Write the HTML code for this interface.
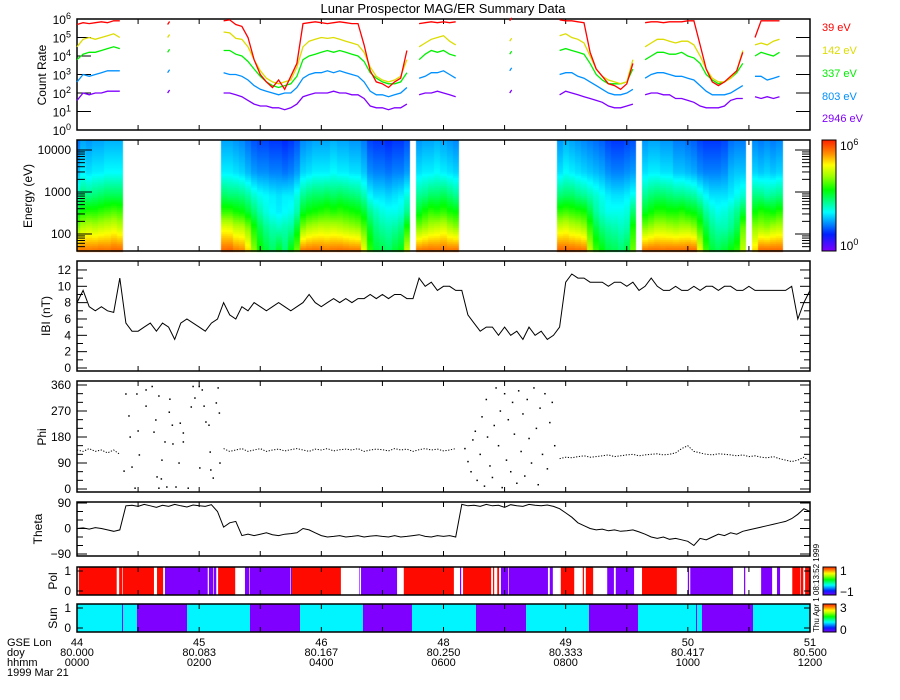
<!DOCTYPE html>
<html><head><meta charset="utf-8">
<style>
html,body{margin:0;padding:0;background:#fff;}
#wrap{position:relative;width:900px;height:700px;overflow:hidden;}
#spec{position:absolute;left:0;top:0;}
#main{position:absolute;left:0;top:0;}
text{font-family:"Liberation Sans",sans-serif;fill:#000;}
</style></head>
<body>
<div id="wrap">
<canvas id="spec" width="900" height="700"></canvas>
<svg id="main" width="900" height="700" xmlns="http://www.w3.org/2000/svg"></svg>
</div>
<script>
const N = null;
// time grid: sample index * 0.1 hour
const crStepHours = 0.1;
const crChannels = ["39 eV","142 eV","337 eV","803 eV","2946 eV"];
const crEnergies = [39,142,337,803,2946];
// log10 count rates
const cr39 = [5.7,5.8,5.75,5.8,5.85,5.8,5.9,5.9, N,N,N,N,N,N,N, 5.7, N,N,N,N,N,N,N,N,
 5.9,5.95,5.7,5.6,5.0,3.8,3.0,2.6,2.3,2.7,2.2,2.9,3.6,5.75,5.8,5.85,5.8,5.75,5.8,5.85,5.8,5.75,5.75,4.6,3.2,2.6,2.5,2.3,2.6,2.8,4.3,
 N, 5.75,5.8,5.85,5.8,5.85,5.8,5.85, N,N,N,N,N,N,N,N, 5.9, N,N,N,N,N,N,N,
 5.95,5.9,5.9,5.85,5.8,4.2,3.3,2.9,2.5,2.4,2.2,2.5,3.6, N,
 5.8,5.85,5.85,5.8,5.85,5.85,5.85,5.9,5.9,4.6,3.3,2.6,2.4,2.6,2.9,3.2,4.2, N,
 5.0,5.9,5.9,5.9,5.9];
const cr142 = [4.5,4.9,5.0,4.9,5.0,5.1,5.2,5.0, N,N,N,N,N,N,N, 5.0, N,N,N,N,N,N,N,N,
 5.3,5.25,4.95,4.9,4.5,3.8,3.2,2.8,2.6,2.5,2.6,2.7,3.4,4.5,4.8,4.9,5.0,4.95,5.0,4.9,4.8,4.7,4.6,4.2,3.4,2.9,2.7,2.6,2.7,2.9,3.8,
 N, 4.5,4.7,4.9,5.0,5.1,4.8,4.6, N,N,N,N,N,N,N,N, 4.8, N,N,N,N,N,N,N,
 5.1,5.2,5.0,4.9,4.7,4.0,3.3,2.9,2.7,2.6,2.5,2.6,3.8, N,
 4.5,4.7,4.9,4.9,4.8,4.7,4.8,4.8,4.6,4.0,3.3,2.8,2.6,2.6,2.8,3.2,4.3, N,
 4.6,4.7,4.6,4.8,4.9];
const cr337 = [3.8,4.1,4.2,4.2,4.3,4.4,4.5,4.4, N,N,N,N,N,N,N, 4.2, N,N,N,N,N,N,N,N,
 4.3,4.3,4.1,4.0,3.7,3.3,2.9,2.6,2.4,2.3,2.4,2.5,2.9,3.8,4.0,4.1,4.2,4.3,4.2,4.3,4.2,4.1,4.0,3.7,3.1,2.8,2.6,2.5,2.5,2.6,3.1,
 N, 3.8,4.1,4.3,4.2,4.3,4.1,4.0, N,N,N,N,N,N,N,N, 4.1, N,N,N,N,N,N,N,
 4.3,4.4,4.3,4.2,4.1,3.6,3.0,2.7,2.5,2.5,2.5,2.6,3.3, N,
 3.8,4.0,4.2,4.2,4.1,4.1,4.2,4.0,3.9,3.6,3.0,2.7,2.5,2.6,2.8,3.1,3.6, N,
 4.0,4.2,4.1,4.0,4.2];
const cr803 = [2.6,3.0,2.9,3.0,3.1,3.2,3.2,3.2, N,N,N,N,N,N,N, 3.1, N,N,N,N,N,N,N,N,
 3.1,3.0,3.0,2.9,2.7,2.4,2.2,2.1,2.0,1.9,2.0,2.0,2.3,2.8,3.0,3.1,3.1,3.2,3.1,3.2,3.1,3.0,2.9,2.6,2.1,1.9,1.9,1.8,1.9,2.0,2.3,
 N, 2.8,2.9,3.1,3.1,3.2,3.0,2.8, N,N,N,N,N,N,N,N, 3.2, N,N,N,N,N,N,N,
 3.0,3.1,3.1,2.9,2.8,2.6,2.4,2.2,2.0,1.9,1.9,2.0,2.2, N,
 2.8,3.0,3.1,3.1,3.0,2.9,2.9,2.8,2.7,2.4,2.1,1.9,1.9,1.9,2.0,2.2,2.4, N,
 2.9,2.9,2.7,2.8,2.9];
const cr2946 = [1.6,2.0,1.9,2.0,2.0,2.1,2.1,2.1, N,N,N,N,N,N,N, 2.0, N,N,N,N,N,N,N,N,
 2.0,2.0,1.9,1.8,1.6,1.4,1.3,1.3,1.2,1.2,1.1,1.2,1.4,1.8,1.9,2.0,2.0,2.0,2.1,2.0,2.0,1.9,1.9,1.7,1.3,1.2,1.2,1.1,1.2,1.2,1.4,
 N, 1.9,2.0,2.0,2.1,2.0,1.9,1.8, N,N,N,N,N,N,N,N, 2.0, N,N,N,N,N,N,N,
 1.9,2.1,2.0,1.9,1.8,1.7,1.6,1.5,1.3,1.2,1.2,1.3,1.4, N,
 1.9,2.0,2.0,1.9,1.9,1.7,1.7,1.6,1.5,1.3,1.2,1.2,1.2,1.3,1.6,1.7,1.7, N,
 1.8,1.7,1.8,1.7,1.8];

// magnetometer series, every 0.1 h from 0 to 12 h
const bMag = [8,9.5,7.5,7,7.5,7,6.8,11,5.5,4.5,
 4.5,5,5.5,4.5,5.5,5,3.5,5.5,6,5.5,
 5,4.5,5.5,6,8,6.5,6,7.5,7,8,
 7.5,7,7.5,8,7.5,7,7.5,8,9,8,
 7.5,8,8.5,8,8.5,8,8.5,8.5,9,8.5,
 9,8.5,9,9,8.5,8.5,11,10,10.5,9.5,
 10,10,9.5,9.5,6.5,5.5,4.5,5,5,4,
 5,4,4.5,3.5,5,4,4.5,3.5,4,5,
 10.5,11.5,11,11,10.5,10.5,10.5,10,10.5,10.5,
 10,10.5,9.5,10,11,10,9.5,9.5,10,9.5,
 9.5,10,9.5,10,10,9.5,10,10,9.5,9.5,
 10,9.5,9.5,9.5,9.5,9.5,9.5,10,6,8,
 9.5];
const theta = [0,2,-2,3,0,-5,-10,-5,80,82,
 78,85,80,75,82,78,85,80,76,83,
 80,78,84,60,5,20,25,-25,-20,-25,
 -20,-15,-22,-25,-20,-18,-15,0,-5,-15,
 -25,-30,-28,-25,-30,-28,-25,-30,-27,-25,
 -28,-30,-25,-30,-28,-25,-22,-28,-30,-25,
 -28,-25,-30,85,80,82,78,85,80,82,
 75,84,80,78,85,82,80,83,78,70,
 55,40,20,10,0,-5,-2,-8,-5,-10,
 -8,-5,-12,-20,-30,-35,-30,-38,-35,-40,
 -45,-60,-35,-40,-30,-20,-25,-15,-20,-10,
 -5,0,5,10,15,20,25,35,50,70,
 60];
const phiSteady = [135,130,140,130,135,125,135,120,
 N,N,N,N,N,N,N,N,N,N,N,N,N,N,N,N,
 140,130,135,140,130,135,140,130,135,138,132,136,140,135,130,138,135,140,132,136,138,135,140,130,135,138,136,132,140,135,138,130,136,140,135,138,132,135,140,
 N,N,N,N,N,N,N,N,N,N,N,N,N,N,N,N,
 105,110,108,112,115,110,112,115,118,112,115,118,120,115,118,120,122,118,120,125,140,150,130,125,120,118,122,120,118,115,118,112,115,110,108,112,105,100,95,100,110,95];
const phiScatterT = [0.80,0.98,0.85,0.87,1.00,1.02,0.77,0.90,0.95,1.13,1.13,1.23,1.26,1.29,1.34,1.31,1.39,1.44,1.38,1.34,1.47,1.51,1.52,1.56,1.57,1.62,1.67,1.69,1.74,1.74,1.82,1.87,1.90,1.93,2.00,2.05,2.01,2.08,2.11,2.16,2.18,2.19,2.23,2.28,2.31,2.33,2.34,
 6.35,6.40,6.45,6.48,6.52,6.55,6.60,6.63,6.67,6.70,6.72,6.76,6.80,6.83,6.86,6.90,6.93,6.96,7.00,7.03,7.06,7.10,7.13,7.16,7.20,7.23,7.27,7.30,7.33,7.37,7.40,7.44,7.48,7.52,7.55,7.58,7.62,7.66,7.70,7.74,7.78,7.82];
const phiScatterV = [329,329,253,180,201,118,62,76,3,343,287,355,197,239,322,42,100,163,35,3,7,266,311,221,156,7,90,228,194,163,3,284,355,315,355,343,73,287,232,221,128,66,38,298,350,263,90,
 140,95,60,170,200,30,120,250,10,310,180,80,40,220,350,150,270,5,330,100,240,60,300,190,20,340,130,260,45,310,175,90,350,210,15,280,120,330,70,230,300,150];
// polarity segments (hours) and value (1 / -1)
const polStart = [0.03,0.69,0.75,1.31,1.44,2.16,2.24,2.31,2.75,2.83,3.50,3.52,4.62,4.65,5.35,6.27,6.32,6.81,6.88,6.94,7.07,7.74,7.92,8.28,8.33,8.68,8.82,9.25,10.00,10.04,10.92,11.20,11.46,11.71,11.85,11.92];
const polEnd   = [0.65,0.74,1.26,1.41,2.14,2.23,2.28,2.59,2.82,3.49,3.52,4.32,4.63,5.24,6.17,6.29,6.78,6.83,6.91,7.06,7.71,7.79,8.14,8.30,8.45,8.79,9.12,9.82,10.02,10.74,10.94,11.38,11.51,11.84,11.89,12.00];
const polVal   = [1,1,1,1,-1,-1,-1,1,-1,-1,-1,1,-1,-1,1,-1,1,1,1,-1,-1,-1,1,1,1,-1,-1,1,-1,-1,-1,-1,-1,1,1,1];
// sunlight segments
const sunStart = [0,0.737,0.753,0.982,1.801,2.832,3.651,4.682,5.484,6.532,7.351,8.382,9.184,10.134,10.150,10.232,11.067];
const sunEnd   = [0.737,0.753,0.982,1.801,2.832,3.651,4.682,5.484,6.532,7.351,8.382,9.184,10.134,10.150,10.232,11.067,12];
const sunVal   = [1,0,1,0,1,0,1,0,1,0,1,0,1,0,1,0,1];
// x-axis labels
const lonLabels = ["44","45","46","48","49","50","51"];
const doyLabels = ["80.000","80.083","80.167","80.250","80.333","80.417","80.500"];
const hhmmLabels = ["0000","0200","0400","0600","0800","1000","1200"];
const labelHours = [0,2,4,6,8,10,12];

const svg = document.getElementById('main');
const NS = 'http://www.w3.org/2000/svg';
function mk(tag, attrs, parent){
  const e = document.createElementNS(NS, tag);
  for (const k in attrs) e.setAttribute(k, attrs[k]);
  (parent||svg).appendChild(e);
  return e;
}
const X0 = 77, X1 = 810;
function X(h){ return X0 + h*(X1-X0)/12; }

const panels = {
  cr:{t:19,b:130}, en:{t:140,b:251}, b:{t:261,b:371}, phi:{t:381,b:492},
  th:{t:502,b:556}, pol:{t:567,b:595}, sun:{t:604,b:632}
};
const Ycr = v => 130 - v*18.5;
const Yen = e => 192 - (Math.log10(e)-3)*42;
const Yb = v => 368 - v*8.17;
const Yphi = v => 489 - v*(104/360);
const Yth = v => 528.5 - v*(51/180);

// ---- spectrogram (canvas) ----
const ctx = document.getElementById('spec').getContext('2d');
const stops = [[0,[127,0,255]],[1.2,[0,32,255]],[2.0,[0,144,255]],[2.8,[0,255,255]],[4.4,[0,255,0]],[5.4,[160,255,0]],[6.2,[255,255,0]],[7.0,[255,144,0]],[8,[255,32,0]]];
function cmap(v){
  v=Math.max(0,Math.min(8,v));
  for(let k=0;k<stops.length-1;k++){
    const a=stops[k],b=stops[k+1];
    if(v<=b[0]){const f=(v-a[0])/(b[0]-a[0]);
      return 'rgb('+a[1].map((c,j)=>Math.round(c+(b[1][j]-c)*f)).join(',')+')';}
  }
  return 'rgb(255,32,0)';
}
const chanArrays = [cr39,cr142,cr337,cr803,cr2946];
const chanOffset = [1.5,0.7,0.4,0.7,0.7];
for(let i=0;i<cr39.length;i++){
  if(cr39[i]==null) continue;
  const prevOk = i>0 && cr39[i-1]!=null, nextOk = i<cr39.length-1 && cr39[i+1]!=null;
  if(!prevOk && !nextOk) continue;
  const h=i*crStepHours;
  const xa=Math.round(X(h-0.05)), xb=Math.round(X(h+0.05));
  const le=[Math.log10(30)].concat(crEnergies.map(Math.log10)).concat([Math.log10(20000)]);
  const cv=[chanArrays[0][i]+chanOffset[0]].concat(chanArrays.map((a,k)=>a[i]+chanOffset[k])).concat([chanArrays[4][i]+0.1]);
  for(let y=panels.en.t; y<panels.en.b; y+=2){
    const L = 3 - (y+1-192)/42;
    let v=cv[cv.length-1];
    for(let k=0;k<le.length-1;k++){ if(L>=le[k]&&L<=le[k+1]){v=cv[k]+(cv[k+1]-cv[k])*(L-le[k])/(le[k+1]-le[k]);break;} }
    ctx.fillStyle=cmap(v);
    ctx.fillRect(Math.max(X0,xa), y, Math.min(X1,xb)-Math.max(X0,xa), 2);
  }
}
// colorbars
function colorbar(x,y,w,h,name){
  const g=ctx.createLinearGradient(0,y,0,y+h);
  for(const s of stops) g.addColorStop(1-s[0]/8,'rgb('+s[1].join(',')+')');
  ctx.fillStyle=g; ctx.fillRect(x,y,w,h);
}
colorbar(822,140,14,111);
colorbar(823,567,13,28);
colorbar(823,604,13,28);

// ---- title ----
const title = mk('text',{x:443,y:13,'text-anchor':'middle','font-size':13});
title.textContent='Lunar Prospector MAG/ER Summary Data';



function frame(p,name){
  const r=mk('rect',{x:X0,y:p.t,width:X1-X0,height:p.b-p.t,fill:'none',stroke:'#000','stroke-width':1.5});
  
  
  for(let h=1;h<12;h++){
    const t1=mk('line',{x1:X(h),x2:X(h),y1:p.b,y2:p.b-5,stroke:'#000'});
    
    
    const t2=mk('line',{x1:X(h),x2:X(h),y1:p.t,y2:p.t+5,stroke:'#000'});
    
    
  }
}
function ytick(y,len,both){
  const a=mk('line',{x1:X0,x2:X0+len,y1:y,y2:y,stroke:'#000'});
  
  
  if(both){const b=mk('line',{x1:X1,x2:X1-len,y1:y,y2:y,stroke:'#000'});
    
    }
}
function ylab(y,txt,name){
  const t=mk('text',{x:71,y:y+4,'text-anchor':'end','font-size':12});
  t.textContent=txt;
  
  
}
function ytitle(x,y,txt,name){
  const t=mk('text',{x:x,y:y,'text-anchor':'middle','font-size':12,transform:'rotate(-90 '+x+' '+y+')'});
  t.textContent=txt;
  
  
}
function pow10(x,y,e,anchor,name){
  const t=mk('text',{x:x,y:y,'text-anchor':anchor,'font-size':12});
  const a=document.createElementNS(NS,'tspan'); a.textContent='10'; t.appendChild(a);
  const b=document.createElementNS(NS,'tspan'); b.setAttribute('dy','-5'); b.setAttribute('font-size','9'); b.textContent=e; t.appendChild(b);
  
  
}
function polyline(xs,ys,color,name,w){
  let d='',pen=false;
  for(let i=0;i<xs.length;i++){
    if(ys[i]==null){pen=false;continue;}
    const isolated = !pen && (i==xs.length-1 || ys[i+1]==null);
    if(isolated){ d+='M'+(xs[i]-1).toFixed(1)+' '+ys[i].toFixed(1)+'L'+(xs[i]+1).toFixed(1)+' '+(ys[i]-3).toFixed(1); pen=false; continue; }
    d+=(pen?'L':'M')+xs[i].toFixed(1)+' '+ys[i].toFixed(1); pen=true;
  }
  const p=mk('path',{d:d,fill:'none',stroke:color,'stroke-width':w||1,'stroke-linejoin':'miter'});
  
  
}

// ---- count rate panel ----
frame(panels.cr,'count-rate-panel');
for(let d=1;d<=5;d++) ytick(Ycr(d),14,true);
for(let d=0;d<=6;d++) pow10(71,Ycr(d)+5,String(d),'end','count-rate-tick-label');
ytitle(46,75,'Count Rate','count-rate-axis-title');
const crColors=['#ff0000','#dcdc00','#00f000','#0090ff','#8000ff'];
const crNames=['series-39ev','series-142ev','series-337ev','series-803ev','series-2946ev'];
for(let k=4;k>=0;k--){
  const arr=chanArrays[k];
  polyline(arr.map((v,i)=>X(i*crStepHours)), arr.map(v=>v==null?null:Ycr(v)), crColors[k], crNames[k], 1.3);
}
const legY=[27,50,73,96,118];
for(let k=0;k<5;k++){
  const t=mk('text',{x:822,y:legY[k]+4,'font-size':11,style:'fill:'+crColors[k]});
  t.textContent=crChannels[k];
  
  
}

// ---- energy panel ----
frame(panels.en,'energy-panel');
for(let dec=1;dec<=4;dec++){
  for(let m=1;m<10;m++){
    const e=m*Math.pow(10,dec); const y=Yen(e);
    if(y<panels.en.t+1||y>panels.en.b-1) continue;
    ytick(y, m==1?15:8, true);
  }
}
ylab(Yen(100),'100','energy-tick-label');
ylab(Yen(1000),'1000','energy-tick-label');
ylab(Yen(10000),'10000','energy-tick-label');
ytitle(32,196,'Energy (eV)','energy-axis-title');
const cbf=mk('rect',{x:822,y:140,width:14,height:111,fill:'none',stroke:'#000'});


pow10(840,150,'6','start','colorbar-max-label');
pow10(840,250,'0','start','colorbar-min-label');

// ---- |B| panel ----
frame(panels.b,'field-magnitude-panel');
for(let v=0;v<=12;v++) ytick(Yb(v), v%2==0?10:6, true);
for(let v=0;v<=12;v+=2) ylab(Yb(v),String(v),'field-tick-label');
ytitle(50,316,'IBI (nT)','field-axis-title');
polyline(bMag.map((v,i)=>X(i*0.1)), bMag.map(v=>Yb(v)),'#000','field-magnitude-line',1);

// ---- Phi panel ----
frame(panels.phi,'phi-panel');
for(let v=0;v<=360;v+=30) ytick(Yphi(v), v%90==0?10:6, true);
for(let v=0;v<=360;v+=90) ylab(Yphi(v),String(v),'phi-tick-label');
ytitle(46,437,'Phi','phi-axis-title');
polyline(phiSteady.map((v,i)=>X(i*0.1)), phiSteady.map(v=>v==null?null:Yphi(v)),'#000','phi-steady-points',1);
svg.lastChild.setAttribute('stroke-dasharray','1.2,1.6');
for(let i=0;i<phiScatterT.length;i++){
  const r=mk('rect',{x:X(phiScatterT[i])-0.7,y:Yphi(phiScatterV[i])-0.7,width:1.5,height:1.5,fill:'#000'});
  
  
}

// ---- Theta panel ----
frame(panels.th,'theta-panel');
for(let v=-90;v<=90;v+=30) ytick(Yth(v), v%90==0?10:6, true);
ylab(Yth(90),'90','theta-tick-label');
ylab(Yth(0),'0','theta-tick-label');
ylab(Yth(-90),'\u221290','theta-tick-label');
ytitle(42,529,'Theta','theta-axis-title');
polyline(theta.map((v,i)=>X(i*0.1)), theta.map(v=>Yth(v)),'#000','theta-line',1);

// ---- Pol panel ----
for(let i=0;i<polStart.length;i++){
  const r=mk('rect',{x:X(polStart[i]),y:panels.pol.t,width:X(polEnd[i])-X(polStart[i]),height:panels.pol.b-panels.pol.t,fill:polVal[i]>0?'#ff0a00':'#8000ff'});
  
  
}
frame(panels.pol,'polarity-panel');
ytick(panels.pol.t+4,6,true); ytick(panels.pol.b-4,6,true);
ylab(panels.pol.t+4,'1','pol-tick-label');
ylab(panels.pol.b-4,'0','pol-tick-label');
ytitle(57,581,'Pol','pol-axis-title');

// ---- Sun panel ----
for(let i=0;i<sunStart.length;i++){
  const r=mk('rect',{x:X(sunStart[i]),y:panels.sun.t,width:X(sunEnd[i])-X(sunStart[i]),height:panels.sun.b-panels.sun.t,fill:sunVal[i]>0?'#00f5ff':'#8000ff'});
  
  
}
frame(panels.sun,'sun-panel');
ytick(panels.sun.t+4,6,true); ytick(panels.sun.b-4,6,true);
ylab(panels.sun.t+4,'1','sun-tick-label');
ylab(panels.sun.b-4,'0','sun-tick-label');
ytitle(57,618,'Sun','sun-axis-title');

// small colorbars
const pcb=mk('rect',{x:823,y:567,width:13,height:28,fill:'none',stroke:'#000'});


const scb=mk('rect',{x:823,y:604,width:13,height:28,fill:'none',stroke:'#000'});


const cbl=[[840,575,'1'],[840,596,'\u22121'],[840,612,'3'],[840,634,'0']];
for(const c of cbl){
  const t=mk('text',{x:c[0],y:c[1],'font-size':12}); t.textContent=c[2];
  
  
}
const stamp=mk('text',{x:819,y:632,'font-size':8,transform:'rotate(-90 819 632)'});
stamp.textContent='Thu Apr  1 08:13:52 1999';



// ---- x labels ----
const rows=[[646,'GSE Lon',lonLabels],[656,'doy',doyLabels],[666,'hhmm',hhmmLabels]];
for(const r of rows){
  const t=mk('text',{x:7,y:r[0],'font-size':11}); t.textContent=r[1];
  
  
  for(let i=0;i<labelHours.length;i++){
    const v=mk('text',{x:X(labelHours[i]),y:r[0],'font-size':11,'text-anchor':'middle'}); v.textContent=r[2][i];
    
    
  }
}
const dt=mk('text',{x:7,y:676,'font-size':11}); dt.textContent='1999 Mar 21';


</script>
</body></html>
